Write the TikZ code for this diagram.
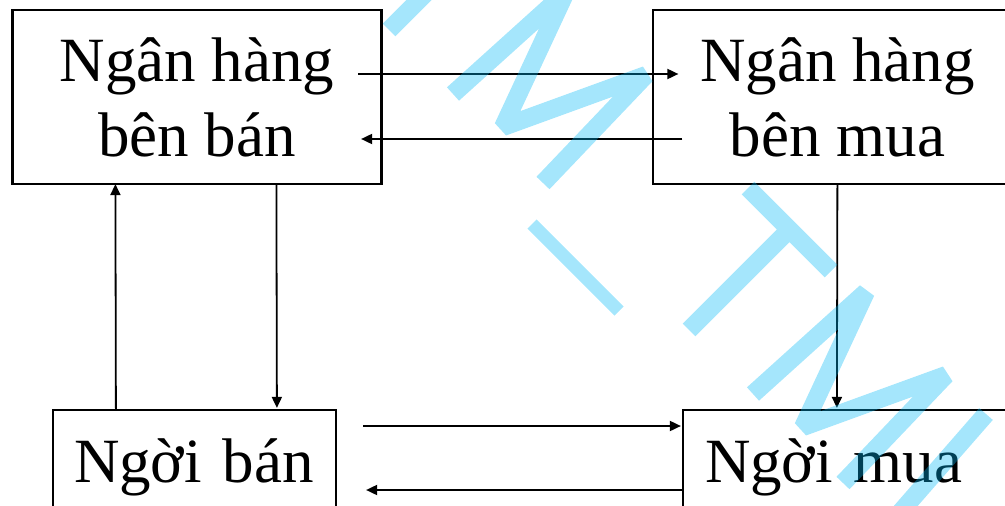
\documentclass[tikz,border=0pt]{standalone}
\usepackage{fontspec}
\setmainfont{Liberation Serif}
\usetikzlibrary{arrows.meta,calc}
\definecolor{wmcyan}{RGB}{0,184,246}
\tikzset{
  box/.style={draw, line width=2.2pt, inner sep=0pt, font=\fontsize{63}{75}\selectfont},
  topbox/.style={box, minimum width=369pt, minimum height=174pt, align=center},
  lowbox/.style={box, minimum height=144pt, align=left, text height=0pt, text depth=0pt},
  arr/.style={line width=1.8pt, -{Triangle[length=11pt,width=10pt]}},
  wm/.style={draw=wmcyan, draw opacity=0.353, line width=18pt, line cap=butt, line join=bevel},
  wmthin/.style={wm, line width=13pt},
}
\begin{document}
\begin{tikzpicture}[x=1pt, y=-1pt]
  \useasboundingbox (0,0) rectangle (1005,506);
  \clip (0,0) rectangle (1005,506);

  % the four parties
  \node[topbox] (bsell) at (197,97) {Ngân hàng\\bên bán};
  \node[topbox] (bbuy) at (837.5,97) {Ngân hàng\\bên mua};
  \node[lowbox, minimum width=283pt, text width=241pt] (sell) at (194.5,482) {Ngời bán};
  \node[lowbox, minimum width=350pt, text width=306pt] (buy) at (858,482) {Ngời mua};

  % bank to bank
  \draw[arr] ($(bsell.east)+(-24.5,-23)$) -- ($(bbuy.west)+(26.5,-23)$);
  \draw[arr] ($(bbuy.west)+(30.5,42)$) -- ($(bsell.east)+(-21.5,42)$);

  % seller side
  \draw[arr] ($(sell.north west)+(64,0)$) -- ($(bsell.south west)+(104,-1)$);
  \draw[arr] ($(bsell.south west)+(265,0)$) -- ($(sell.north west)+(225,-1)$);

  % buyer side
  \draw[arr] ($(bbuy.south west)+(185.5,0)$) -- ($(buy.north west)+(155,-1)$);

  % seller to buyer
  \draw[arr] ($(sell.east)+(26,-56)$) -- ($(buy.west)+(-1,-56)$);
  \draw[arr] ($(buy.west)+(0,8)$) -- ($(sell.east)+(29,8)$);

  % watermark lettering
  \draw[wm] (448,-112) -- (531,-29) (489.5,-70.5) -- (389,30);
  \draw[wm] (453,94) -- (566,-8) -- (503,127) -- (646,75) -- (543,183);
  \draw[wmthin] (532,224) -- (619,311);
  \draw[wm] (748,188) -- (831,271) (789.5,229.5) -- (689,330);
  \draw[wm] (753,394) -- (866,292) -- (803,427) -- (946,375) -- (843,483);
  \draw[wm] (986,414) -- (897,516);
\end{tikzpicture}
\end{document}
